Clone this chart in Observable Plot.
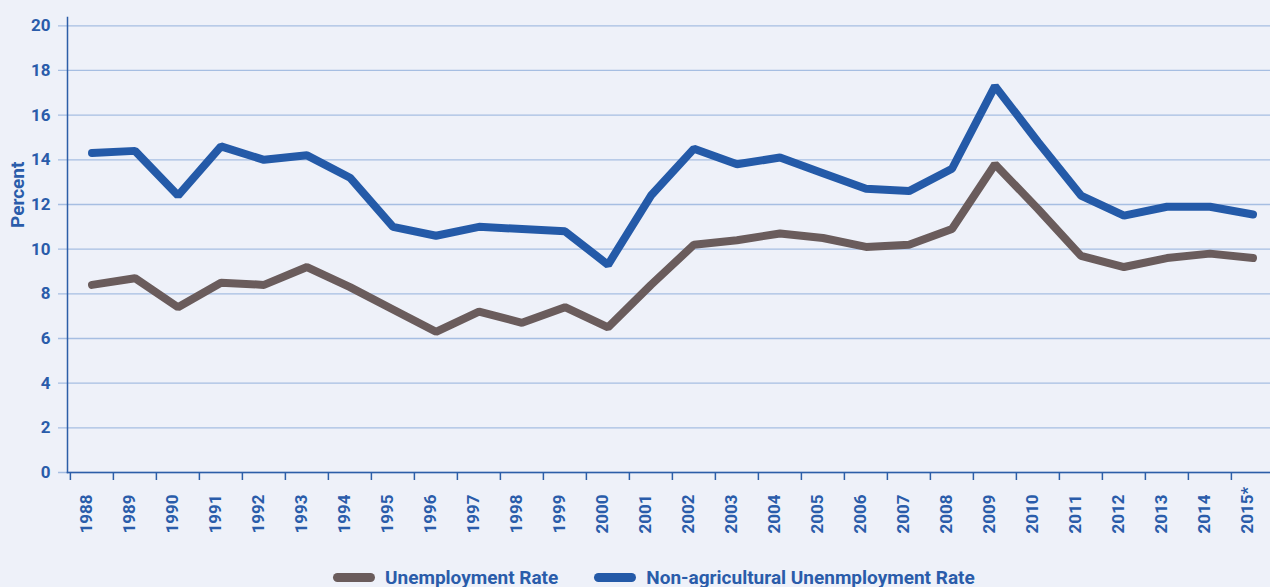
<!DOCTYPE html>
<html>
<head>
<meta charset="utf-8">
<script src="https://cdn.jsdelivr.net/npm/d3@7"></script>
<script src="https://cdn.jsdelivr.net/npm/@observablehq/plot@0.6"></script>
<style>
  html, body { margin: 0; padding: 0; background: #eef1f9; overflow: hidden; }
  body { font-family: Roboto, "Liberation Sans", sans-serif; }
  #legend { display: flex; align-items: center; margin-left: 333px; height: 24px; color: #2a5caa; font-weight: 700; font-size: 19px; }
  #legend .item { display: flex; align-items: center; }
  #legend .sw { width: 42px; height: 9px; border-radius: 5px; margin-right: 10px; }
</style>
</head>
<body>
<div id="chart"></div>
<div id="legend"></div>
<script>
var years = ["1988","1989","1990","1991","1992","1993","1994","1995","1996","1997","1998","1999","2000","2001",
  "2002","2003","2004","2005","2006","2007","2008","2009","2010","2011","2012","2013","2014","2015*"]
var unemployment = [8.4, 8.7, 7.4, 8.5, 8.4, 9.2, 8.3, 7.3, 6.3, 7.2, 6.7, 7.4, 6.5, 8.4,
  10.2, 10.4, 10.7, 10.5, 10.1, 10.2, 10.9, 13.8, 11.8, 9.7, 9.2, 9.6, 9.8, 9.6]
var nonAgri = [14.3, 14.4, 12.4, 14.6, 14.0, 14.2, 13.2, 11.0, 10.6, 11.0, 10.9, 10.8, 9.3, 12.4,
  14.5, 13.8, 14.1, 13.4, 12.7, 12.6, 13.6, 17.3, 14.8, 12.4, 11.5, 11.9, 11.9, 11.55]
var yTicks = [0, 2, 4, 6, 8, 10, 12, 14, 16, 18, 20]
var seriesNames = ["Unemployment Rate", "Non-agricultural Unenmployment Rate"]
var seriesColors = ["#6a5c5c", "#245aa8"]

var textBlue = "#2a5caa"
var axisBlue = "#2c5ea8"
var gridBlue = "#a6bee2"
var x0 = 67, x1 = 1277
var bw = (x1 - x0) / years.length

var chart = Plot.plot({
  width: 1270,
  height: 565,
  marginLeft: 67,
  marginRight: 0,
  marginTop: 17,
  marginBottom: 93,
  style: {background: "transparent", fontFamily: "Roboto, 'Liberation Sans', sans-serif", overflow: "visible"},
  x: {type: "band", domain: years, range: [x0, x1], padding: 0, axis: null},
  y: {domain: [0, 20], range: [472, 25.3], axis: null},
  marks: [
    Plot.ruleY(yTicks, {y: d => d, stroke: gridBlue, strokeWidth: 1.3, insetLeft: -9}),
    Plot.frame({anchor: "left", stroke: axisBlue, strokeWidth: 1.5}),
    Plot.frame({anchor: "bottom", stroke: axisBlue, strokeWidth: 1.5}),
    Plot.ruleX(years, {x: d => d, y1: 0, y2: 0, insetBottom: -8, dx: -bw / 2, stroke: axisBlue, strokeWidth: 1.5}),
    Plot.text(yTicks, {y: d => d, frameAnchor: "left", dx: -17, textAnchor: "end", text: d => String(d),
      fill: textBlue, fontSize: 17, fontWeight: 700}),
    Plot.text(years, {x: d => d, frameAnchor: "bottom", rotate: -90, textAnchor: "start", dy: 61, text: d => d,
      fill: textBlue, fontSize: 17, fontWeight: 700}),
    Plot.text(["Percent"], {frameAnchor: "left", rotate: -90, dx: -50, dy: -17, text: d => d,
      fill: textBlue, fontSize: 19, fontWeight: 700}),
    Plot.line(years, {x: d => d, y: (d, i) => unemployment[i], stroke: seriesColors[0], strokeWidth: 8,
      strokeLinejoin: "miter", strokeLinecap: "round"}),
    Plot.line(years, {x: d => d, y: (d, i) => nonAgri[i], stroke: seriesColors[1], strokeWidth: 8,
      strokeLinejoin: "miter", strokeLinecap: "round"})
  ]
})
d3.select('#chart').append(() => chart)

var legend = d3.select('#legend')
seriesNames.forEach((name, i) => {
  var item = legend.append('div').attr('class', 'item').style('margin-right', i == 0 ? '36px' : '0')
  item.append('span').attr('class', 'sw').style('background', seriesColors[i])
  item.append('span').text(name)
})
</script>
</body>
</html>
